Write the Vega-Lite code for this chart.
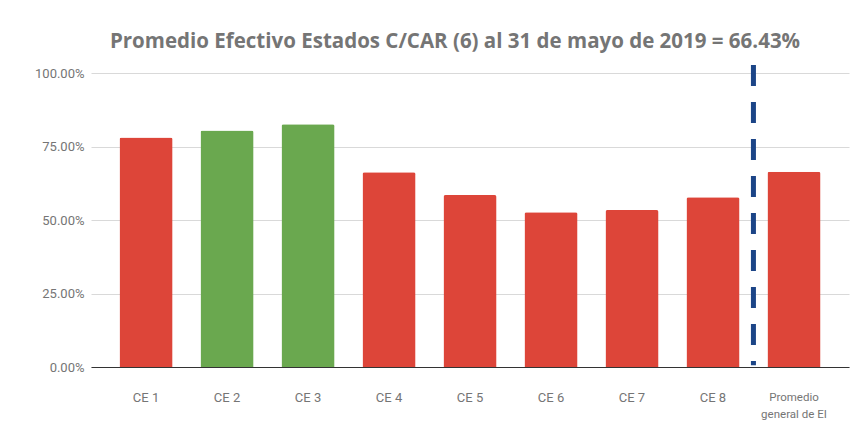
{
  "$schema": "https://vega.github.io/schema/vega-lite/v6.json",
  "width": 758,
  "height": 294,
  "autosize": {"type": "none"},
  "padding": {"left": 91, "top": 73, "right": 15, "bottom": 61},
  "background": "white",
  "title": {
    "text": "Promedio Efectivo Estados C/CAR (6) al 31 de mayo de 2019 = 66.43%",
    "font": "Open Sans",
    "fontSize": 20.5,
    "fontWeight": "bold",
    "color": "#757575",
    "anchor": "middle",
    "offset": 10,
    "dx": -15
  },
  "config": {"view": {"stroke": null}},
  "layer": [
    {
      "data": {
        "values": [
          {"centro": "CE 1", "efectividad": 0.781, "meta": "No cumple"},
          {"centro": "CE 2", "efectividad": 0.804, "meta": "Cumple"},
          {"centro": "CE 3", "efectividad": 0.826, "meta": "Cumple"},
          {"centro": "CE 4", "efectividad": 0.662, "meta": "No cumple"},
          {"centro": "CE 5", "efectividad": 0.585, "meta": "No cumple"},
          {"centro": "CE 6", "efectividad": 0.526, "meta": "No cumple"},
          {"centro": "CE 7", "efectividad": 0.534, "meta": "No cumple"},
          {"centro": "CE 8", "efectividad": 0.577, "meta": "No cumple"},
          {"centro": "Promedio general de EI", "efectividad": 0.6643, "meta": "No cumple"}
        ]
      },
      "mark": {"type": "bar", "cornerRadiusTopLeft": 2, "cornerRadiusTopRight": 2},
      "encoding": {
        "x": {
          "field": "centro",
          "type": "nominal",
          "sort": null,
          "scale": {"paddingInner": 0.345, "paddingOuter": 0.352},
          "axis": {
            "title": null,
            "labelAngle": 0,
            "ticks": false,
            "domainColor": "#333333",
            "labelColor": "#757575",
            "labelFont": "Roboto",
            "labelFontSize": {"condition": {"test": "datum.value == 'Promedio general de EI'", "value": 11.5}, "value": 13},
            "labelBaseline": "middle",
            "labelPadding": 30,
            "labelLineHeight": 17,
            "labelExpr": "datum.value == 'Promedio general de EI' ? ['Promedio', 'general de EI'] : datum.value"
          }
        },
        "y": {
          "field": "efectividad",
          "type": "quantitative",
          "scale": {"domain": [0, 1]},
          "axis": {
            "title": null,
            "format": ".2%",
            "values": [0, 0.25, 0.5, 0.75, 1],
            "ticks": false,
            "domain": false,
            "labelColor": "#757575",
            "labelFont": "Roboto",
            "labelFontSize": 13,
            "labelPadding": 7,
            "gridColor": "#d9d9d9"
          }
        },
        "color": {
          "field": "meta",
          "type": "nominal",
          "scale": {"domain": ["Cumple", "No cumple"], "range": ["#6aa84f", "#dd4539"]},
          "legend": null
        }
      }
    },
    {
      "data": {"values": [{"centro": "Promedio general de EI", "inicio": 0.006, "fin": 1.027}]},
      "mark": {"type": "rule", "strokeDash": [21, 16], "strokeWidth": 5, "color": "#1c4587"},
      "encoding": {
        "x": {"field": "centro", "type": "nominal", "bandPosition": -0.264},
        "y": {"field": "fin", "type": "quantitative"},
        "y2": {"field": "inicio"}
      }
    }
  ]
}
